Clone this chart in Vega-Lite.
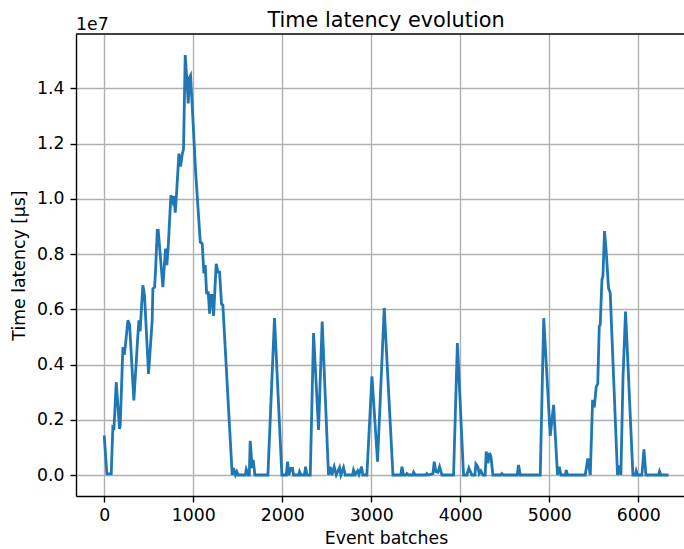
{
  "$schema": "https://vega.github.io/schema/vega-lite/v6.json",
  "width": 608,
  "height": 462,
  "autosize": {"type": "none"},
  "padding": {"left": 76, "top": 34, "right": 0, "bottom": 53},
  "background": "white",
  "title": {"text": "Time latency evolution", "fontSize": 20.8, "fontWeight": "normal", "color": "black", "font": "DejaVu Sans", "offset": -16, "dx": 6},
  "layer": [
    {
      "data": {"values": [
        {"batch": 0, "latency": 1430000}, {"batch": 30, "latency": 40000}, {"batch": 79, "latency": 40000}, {"batch": 97, "latency": 1730000},
        {"batch": 110, "latency": 1700000}, {"batch": 135, "latency": 3360000}, {"batch": 172, "latency": 1670000}, {"batch": 180, "latency": 1800000},
        {"batch": 210, "latency": 4630000}, {"batch": 225, "latency": 4350000}, {"batch": 236, "latency": 4630000}, {"batch": 266, "latency": 5600000},
        {"batch": 285, "latency": 5450000}, {"batch": 333, "latency": 2700000}, {"batch": 378, "latency": 5050000}, {"batch": 390, "latency": 5600000},
        {"batch": 403, "latency": 5200000}, {"batch": 434, "latency": 6870000}, {"batch": 453, "latency": 6500000}, {"batch": 498, "latency": 3660000},
        {"batch": 539, "latency": 5600000}, {"batch": 547, "latency": 6750000}, {"batch": 566, "latency": 6800000}, {"batch": 577, "latency": 7410000},
        {"batch": 596, "latency": 8860000}, {"batch": 607, "latency": 8860000}, {"batch": 659, "latency": 6800000}, {"batch": 689, "latency": 8200000},
        {"batch": 704, "latency": 7600000}, {"batch": 719, "latency": 8260000}, {"batch": 749, "latency": 10130000}, {"batch": 771, "latency": 9900000},
        {"batch": 786, "latency": 10100000}, {"batch": 798, "latency": 9500000}, {"batch": 813, "latency": 10200000}, {"batch": 839, "latency": 11640000},
        {"batch": 858, "latency": 11170000}, {"batch": 876, "latency": 11600000}, {"batch": 891, "latency": 11800000}, {"batch": 910, "latency": 15210000},
        {"batch": 929, "latency": 14300000}, {"batch": 944, "latency": 13460000}, {"batch": 959, "latency": 14400000}, {"batch": 970, "latency": 14470000},
        {"batch": 985, "latency": 13600000}, {"batch": 1026, "latency": 11040000}, {"batch": 1079, "latency": 8440000}, {"batch": 1101, "latency": 8380000},
        {"batch": 1120, "latency": 7300000}, {"batch": 1135, "latency": 7600000}, {"batch": 1150, "latency": 6600000}, {"batch": 1169, "latency": 6600000},
        {"batch": 1184, "latency": 5840000}, {"batch": 1199, "latency": 6500000}, {"batch": 1214, "latency": 6500000}, {"batch": 1229, "latency": 5760000},
        {"batch": 1258, "latency": 7650000}, {"batch": 1277, "latency": 7350000}, {"batch": 1296, "latency": 7350000}, {"batch": 1318, "latency": 6200000},
        {"batch": 1333, "latency": 6150000}, {"batch": 1438, "latency": 0}, {"batch": 1453, "latency": 250000}, {"batch": 1475, "latency": 0},
        {"batch": 1490, "latency": 120000}, {"batch": 1505, "latency": 0}, {"batch": 1585, "latency": 0}, {"batch": 1596, "latency": 200000}, {"batch": 1618, "latency": 0},
        {"batch": 1630, "latency": 0}, {"batch": 1640, "latency": 1240000}, {"batch": 1663, "latency": 250000}, {"batch": 1674, "latency": 550000}, {"batch": 1693, "latency": 0},
        {"batch": 1839, "latency": 0}, {"batch": 1913, "latency": 5680000}, {"batch": 1996, "latency": 0}, {"batch": 2045, "latency": 0},
        {"batch": 2060, "latency": 480000}, {"batch": 2075, "latency": 0}, {"batch": 2097, "latency": 240000}, {"batch": 2116, "latency": 240000},
        {"batch": 2127, "latency": 0}, {"batch": 2185, "latency": 0}, {"batch": 2195, "latency": 120000}, {"batch": 2210, "latency": 0}, {"batch": 2250, "latency": 0}, {"batch": 2262, "latency": 300000},
        {"batch": 2277, "latency": 0}, {"batch": 2315, "latency": 0}, {"batch": 2352, "latency": 5140000}, {"batch": 2408, "latency": 1630000},
        {"batch": 2449, "latency": 5560000}, {"batch": 2520, "latency": 0}, {"batch": 2539, "latency": 300000}, {"batch": 2558, "latency": 0},
        {"batch": 2584, "latency": 300000}, {"batch": 2607, "latency": 0}, {"batch": 2644, "latency": 270000}, {"batch": 2659, "latency": 0},
        {"batch": 2689, "latency": 270000}, {"batch": 2708, "latency": 0}, {"batch": 2790, "latency": 0}, {"batch": 2801, "latency": 180000}, {"batch": 2820, "latency": 20000},
        {"batch": 2847, "latency": 150000}, {"batch": 2862, "latency": 20000}, {"batch": 2891, "latency": 300000}, {"batch": 2906, "latency": 0},
        {"batch": 2951, "latency": 0}, {"batch": 3008, "latency": 3570000}, {"batch": 3071, "latency": 480000}, {"batch": 3146, "latency": 6050000},
        {"batch": 3244, "latency": 0}, {"batch": 3333, "latency": 0}, {"batch": 3345, "latency": 300000}, {"batch": 3363, "latency": 0},
        {"batch": 3391, "latency": 0}, {"batch": 3401, "latency": 50000}, {"batch": 3419, "latency": 0}, {"batch": 3466, "latency": 0}, {"batch": 3476, "latency": 100000}, {"batch": 3494, "latency": 0},
        {"batch": 3615, "latency": 0}, {"batch": 3625, "latency": 50000}, {"batch": 3644, "latency": 0}, {"batch": 3693, "latency": 50000}, {"batch": 3708, "latency": 480000},
        {"batch": 3727, "latency": 120000}, {"batch": 3749, "latency": 100000}, {"batch": 3768, "latency": 300000}, {"batch": 3794, "latency": 0},
        {"batch": 3925, "latency": 0}, {"batch": 3968, "latency": 4780000}, {"batch": 4037, "latency": 0}, {"batch": 4075, "latency": 0},
        {"batch": 4097, "latency": 250000}, {"batch": 4131, "latency": 0}, {"batch": 4165, "latency": 0}, {"batch": 4176, "latency": 400000}, {"batch": 4198, "latency": 300000},
        {"batch": 4213, "latency": 50000}, {"batch": 4232, "latency": 150000}, {"batch": 4255, "latency": 0}, {"batch": 4280, "latency": 0}, {"batch": 4292, "latency": 850000},
        {"batch": 4311, "latency": 420000}, {"batch": 4329, "latency": 800000}, {"batch": 4345, "latency": 660000}, {"batch": 4367, "latency": 0},
        {"batch": 4458, "latency": 0}, {"batch": 4468, "latency": 50000}, {"batch": 4487, "latency": 0}, {"batch": 4640, "latency": 0}, {"batch": 4655, "latency": 360000},
        {"batch": 4674, "latency": 0}, {"batch": 4899, "latency": 0}, {"batch": 4938, "latency": 5680000}, {"batch": 5011, "latency": 1420000},
        {"batch": 5049, "latency": 2540000}, {"batch": 5093, "latency": 0}, {"batch": 5112, "latency": 300000}, {"batch": 5131, "latency": 0},
        {"batch": 5181, "latency": 0}, {"batch": 5191, "latency": 180000}, {"batch": 5206, "latency": 0}, {"batch": 5404, "latency": 0}, {"batch": 5434, "latency": 600000},
        {"batch": 5461, "latency": 0}, {"batch": 5487, "latency": 2720000}, {"batch": 5506, "latency": 2450000}, {"batch": 5528, "latency": 3200000},
        {"batch": 5545, "latency": 3300000}, {"batch": 5562, "latency": 5380000}, {"batch": 5573, "latency": 5450000}, {"batch": 5592, "latency": 7070000},
        {"batch": 5603, "latency": 7200000}, {"batch": 5621, "latency": 8830000}, {"batch": 5640, "latency": 8100000}, {"batch": 5666, "latency": 6770000},
        {"batch": 5685, "latency": 6600000}, {"batch": 5767, "latency": 0}, {"batch": 5790, "latency": 350000}, {"batch": 5805, "latency": 0},
        {"batch": 5828, "latency": 3450000}, {"batch": 5857, "latency": 5920000}, {"batch": 5872, "latency": 4900000}, {"batch": 5940, "latency": 0},
        {"batch": 5967, "latency": 0}, {"batch": 5977, "latency": 150000}, {"batch": 5992, "latency": 0}, {"batch": 6041, "latency": 0}, {"batch": 6064, "latency": 930000},
        {"batch": 6086, "latency": 0}, {"batch": 6228, "latency": 0}, {"batch": 6239, "latency": 130000}, {"batch": 6254, "latency": 0}, {"batch": 6340, "latency": 0}
      ]},
      "mark": {"type": "line", "color": "#1f77b4", "strokeWidth": 2.8, "clip": true},
      "encoding": {
        "x": {"field": "batch", "type": "quantitative",
              "scale": {"domain": [-317, 6514], "nice": false, "zero": false},
              "axis": {"values": [0, 1000, 2000, 3000, 4000, 5000, 6000], "format": "d", "title": "Event batches", "labelPadding": 4, "titlePadding": 6, "titleX": 310}},
        "y": {"field": "latency", "type": "quantitative",
              "scale": {"domain": [-760500, 15970500], "nice": false, "zero": false},
              "axis": {"values": [0, 2000000, 4000000, 6000000, 8000000, 10000000, 12000000, 14000000], "labelExpr": "format(datum.value / 10000000, '.1f')", "title": "Time latency [µs]", "labelPadding": 6, "titlePadding": 8}}
      }
    },
    {
      "data": {"values": [{"edge": "top"}]},
      "mark": {"type": "rule", "color": "black", "strokeWidth": 1.4},
      "encoding": {"y": {"datum": 15970500}}
    },
    {
      "data": {"values": [{"label": "1e7"}]},
      "mark": {"type": "text", "align": "left", "baseline": "alphabetic", "dy": -4, "fontSize": 17.3, "color": "black", "font": "DejaVu Sans"},
      "encoding": {"x": {"datum": -317}, "y": {"datum": 15970500}, "text": {"field": "label"}}
    }
  ],
  "config": {
    "font": "DejaVu Sans",
    "view": {"stroke": null},
    "axis": {
      "labelFont": "DejaVu Sans", "labelFontSize": 17.3, "labelColor": "black",
      "titleFont": "DejaVu Sans", "titleFontSize": 17.3, "titleFontWeight": "normal", "titleColor": "black",
      "domainColor": "black", "domainWidth": 1.4,
      "tickColor": "black", "tickWidth": 1.4, "tickSize": 6,
      "grid": true, "gridColor": "#b0b0b0", "gridWidth": 1.4
    }
  }
}
